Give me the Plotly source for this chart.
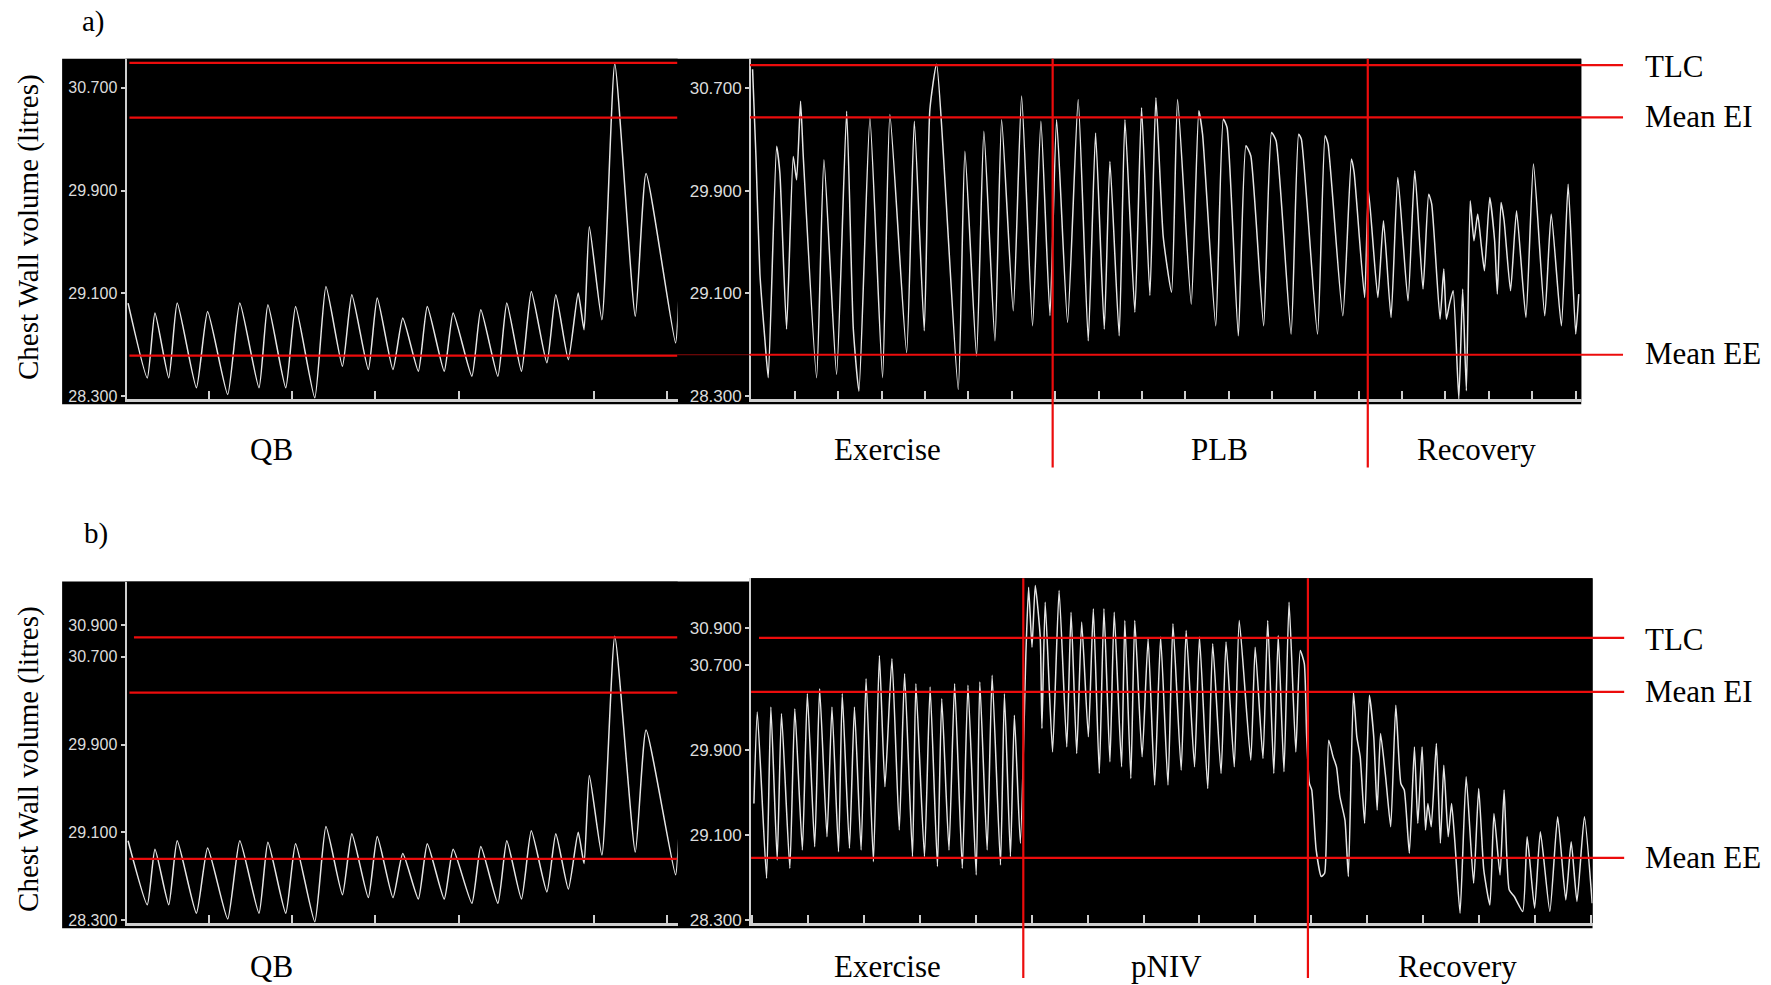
import plotly.graph_objects as go

# ---------------- data ----------------
# Quiet breathing (QB) trace, same recording shown in a) and b); time in arbitrary units, volume in litres
QB_T = [1.4, 18.4, 25.2, 37.4, 44.9, 61.9, 71.8, 89.6, 100.3, 117.3, 125.2, 141.0, 149.7, 166.7,
        176.6, 191.2, 199.5, 214.1, 222.0, 235.9, 244.6, 258.4, 266.3, 281.3, 289.2, 305.8, 313.7,
        328.8, 336.7, 349.7, 358.4, 372.2, 380.1, 391.2, 399.9, 405.1, 409.8, 420.9, 432.3, 450.5,
        460.0, 486.1, 488.9]
QB_V = [29.024, 28.442, 28.947, 28.442, 29.024, 28.365, 28.959, 28.313, 29.024, 28.365, 29.011,
        28.365, 28.998, 28.287, 29.153, 28.533, 29.089, 28.507, 29.063, 28.507, 28.908, 28.494,
        28.998, 28.494, 28.947, 28.455, 28.972, 28.455, 29.024, 28.494, 29.115, 28.559, 29.089,
        28.584, 29.102, 28.817, 29.619, 28.895, 30.886, 28.921, 30.033, 28.714, 29.037]

# a) Exercise / PLB / Recovery trace  (time, volume)
A_POINTS = [
    (1.3, 30.844), (4.3, 30.165), (7.8, 29.252), (12.3, 28.731), (15.2, 28.444), (22.6, 30.244),
    (25.5, 30.035), (31.4, 28.822), (37.3, 30.165), (40.3, 29.983), (43.8, 30.596), (46.2, 30.165),
    (58.0, 28.444), (64.5, 30.139), (75.7, 28.470), (84.6, 30.518), (90.5, 28.822), (95.5, 28.339),
    (105.2, 30.466), (116.4, 28.444), (122.9, 30.492), (137.7, 28.639), (144.5, 30.440),
    (153.3, 28.809), (158.3, 30.531), (164.2, 30.883), (183.4, 28.352), (189.3, 30.205),
    (199.6, 28.613), (206.1, 30.361), (215.9, 28.731), (221.8, 30.452), (232.1, 28.965),
    (239.5, 30.635), (249.2, 28.848), (256.6, 30.439), (264.6, 28.926), (270.5, 30.452),
    (280.2, 28.874), (289.6, 30.609), (298.5, 28.731), (305.0, 30.348), (312.7, 28.822),
    (317.7, 30.126), (325.9, 28.770), (331.0, 30.452), (339.8, 28.952), (345.7, 30.544),
    (353.1, 29.083), (358.4, 30.622), (364.9, 29.539), (372.3, 29.109), (377.6, 30.609),
    (389.7, 29.016), (396.4, 30.521), (399.7, 30.339), (411.4, 28.848), (418.1, 30.456),
    (421.4, 30.391), (431.4, 28.770), (438.1, 30.248), (442.4, 30.171), (453.8, 28.848),
    (460.8, 30.352), (464.8, 30.287), (478.1, 28.783), (484.8, 30.339), (487.2, 30.300),
    (501.5, 28.783), (508.2, 30.326), (510.8, 30.261), (523.9, 28.925), (531.5, 30.145),
    (533.9, 30.041), (543.2, 29.068), (546.6, 29.898), (554.9, 29.068), (559.9, 29.665),
    (566.6, 28.912), (572.6, 30.002), (581.6, 29.042), (587.6, 30.054), (594.9, 29.133),
    (599.9, 29.872), (602.6, 29.795), (610.0, 28.899), (613.3, 29.289), (615.6, 28.899),
    (618.3, 29.016), (621.6, 29.120), (626.6, 28.277), (630.0, 29.133), (633.3, 28.342),
    (636.7, 29.820), (640.0, 29.509), (643.3, 29.717), (646.7, 29.457), (649.3, 29.276),
    (654.0, 29.846), (658.3, 29.509), (660.7, 29.094), (664.0, 29.807), (666.7, 29.665),
    (672.4, 29.120), (677.7, 29.743), (686.0, 28.912), (692.7, 30.106), (702.7, 28.925),
    (708.4, 29.717), (717.4, 28.848), (723.4, 29.950), (730.1, 28.783), (732.8, 29.094),
]

# b) Exercise / pNIV / Recovery trace  (time, volume)
B_POINTS = [
    (2.5, 29.398), (5.5, 30.261), (13.7, 28.692), (17.5, 30.308), (23.1, 28.865), (26.9, 30.245),
    (34.3, 28.786), (38.7, 30.292), (45.4, 28.959), (49.8, 30.433), (56.3, 28.990), (60.7, 30.480),
    (67.2, 29.084), (71.6, 30.308), (77.4, 28.943), (80.7, 30.433), (87.1, 28.975), (91.5, 30.308),
    (97.4, 28.959), (101.8, 30.574), (108.3, 28.849), (113.6, 30.794), (118.5, 29.555),
    (124.7, 30.763), (131.2, 29.147), (135.9, 30.622), (142.9, 28.896), (145.9, 30.527),
    (153.5, 28.896), (158.5, 30.496), (165.0, 28.802), (168.8, 30.386), (175.2, 28.959),
    (180.2, 30.527), (187.0, 28.786), (192.0, 30.512), (199.3, 28.724), (202.5, 30.543),
    (209.0, 28.959), (213.4, 30.606), (220.8, 28.818), (224.3, 30.433), (229.6, 28.896),
    (233.1, 30.229), (238.4, 29.022),
    (243.4, 30.841), (245.7, 31.437), (248.7, 30.872), (251.6, 31.453), (256.0, 30.967),
    (257.5, 30.104), (260.4, 31.296), (266.9, 29.884), (272.7, 31.406), (279.5, 29.931),
    (283.3, 31.202), (288.3, 29.869), (292.7, 31.108), (298.6, 30.026), (303.0, 31.233),
    (308.3, 29.680), (312.4, 31.233), (317.7, 29.790), (321.5, 31.202), (328.0, 29.743),
    (330.9, 31.123), (336.2, 29.633), (339.7, 31.123), (346.2, 29.837), (351.5, 30.951),
    (357.3, 29.571), (362.6, 30.967), (369.1, 29.571), (373.5, 31.092), (380.8, 29.712),
    (385.2, 31.029), (392.6, 29.743), (397.0, 30.967), (404.3, 29.539), (408.7, 30.904),
    (416.1, 29.680), (420.5, 30.920), (427.8, 29.743), (432.2, 31.123), (442.4, 29.806),
    (446.3, 30.872), (453.2, 29.822), (457.4, 31.123), (462.8, 29.680), (466.7, 30.982),
    (471.8, 29.696), (476.3, 31.296), (482.3, 29.884), (486.2, 30.841), (489.8, 30.716),
    (491.9, 30.026), (494.3, 29.586), (496.4, 29.524), (500.3, 28.959), (504.8, 28.708),
    (507.8, 28.739), (511.4, 29.994), (515.3, 29.837), (518.3, 29.743), (521.3, 29.461),
    (525.8, 29.241), (528.8, 28.708), (533.3, 30.449), (536.3, 30.026), (539.3, 29.837),
    (543.2, 29.210), (547.4, 30.418), (551.3, 30.026), (554.3, 29.335), (557.3, 30.057),
    (561.8, 29.649), (566.3, 29.178), (570.8, 30.324), (575.3, 29.586), (578.3, 29.524),
    (582.8, 28.928), (587.3, 29.931), (590.3, 29.210), (594.1, 29.931), (597.1, 29.147),
    (599.2, 29.398), (602.2, 29.178), (606.7, 29.963), (610.3, 29.022), (613.3, 29.759),
    (617.2, 29.084), (620.2, 29.398), (623.2, 29.022), (627.7, 28.363), (633.1, 29.649),
    (639.7, 28.645), (644.2, 29.539), (648.7, 28.771), (654.1, 28.441), (657.7, 29.304),
    (663.1, 28.724), (666.7, 29.524), (671.2, 28.583), (675.7, 28.520), (683.2, 28.379),
    (687.1, 29.084), (693.7, 28.410), (698.8, 29.131), (707.2, 28.379), (714.1, 29.273),
    (721.3, 28.488), (726.1, 29.037), (731.2, 28.473), (737.8, 29.273), (744.7, 28.457),
]

# Phase boundaries (time) and reference levels (TLC, Mean EI, Mean EE) in litres
A_PHASES = [267.0, 546.0]
B_PHASES = [241.0, 493.0]
LEVEL_NAMES = ["TLC", "Mean EI", "Mean EE"]
A_QB_LEVELS = [30.893, 30.468, 28.615]
A_TASK_LEVELS = [30.876, 30.470, 28.622]
B_QB_LEVELS = [30.874, 30.372, 28.860]
B_TASK_LEVELS = [30.960, 30.450, 28.885]

A_PHASE_LABELS = ["Exercise", "PLB", "Recovery"]
B_PHASE_LABELS = ["Exercise", "pNIV", "Recovery"]

Y_TICKTEXT_A = ["28.300", "29.100", "29.900", "30.700"]
Y_TICKVALS_A = [28.3, 29.1, 29.9, 30.7]
Y_TICKTEXT_B = ["28.300", "29.100", "29.900", "30.700", "30.900"]
Y_TICKVALS_BQB = [28.3, 29.1, 29.9, 30.7, 30.988]
Y_TICKVALS_BTASK = [28.3, 29.1, 29.9, 30.7, 31.055]
QB_XTICKS = [72.6, 146.1, 220.1, 294.0, 413.7, 478.2]

# ---------------- layout helpers ----------------
# positions are given on a 1568 x 872 grid of the reference (vertical grid slightly
# stretched to compensate for the capture)
GW, GH = 1568.0, 866.0
FIG_W, FIG_H = 1771, 985


def fx(x):
    return x / GW


def fy(y):
    return 1 - y / GH


TRACE_COLOR = "#e6e6e6"
AXIS_COLOR = "#cfcfcf"
LABEL_COLOR = "#dcdcdc"
RED = "#ec0c0c"
SERIF = "Liberation Serif, Times New Roman, serif"

fig = go.Figure()


def add_trace(t, v, xa, ya):
    fig.add_trace(go.Scatter(x=t, y=v, mode="lines", xaxis=xa, yaxis=ya,
                             line=dict(color=TRACE_COLOR, width=1.5, shape="spline",
                                       smoothing=0.5),
                             showlegend=False, hoverinfo="skip"))


add_trace(QB_T, QB_V, "x", "y")
add_trace([p[0] for p in A_POINTS], [p[1] for p in A_POINTS], "x2", "y2")
add_trace(QB_T, QB_V, "x3", "y3")
add_trace([p[0] for p in B_POINTS], [p[1] for p in B_POINTS], "x4", "y4")


def xaxis(x0, x1, rng, anchor, **kw):
    d = dict(domain=[fx(x0), fx(x1)], range=rng, anchor=anchor, showgrid=False,
             zeroline=False, showline=True, linecolor=AXIS_COLOR, linewidth=3,
             ticks="inside", ticklen=8, tickwidth=1.5, tickcolor=AXIS_COLOR,
             showticklabels=False, fixedrange=True)
    d.update(kw)
    return d


def yaxis(top, bottom, rng, anchor, vals, text, size):
    return dict(domain=[fy(bottom), fy(top)], range=rng, anchor=anchor, showgrid=False,
                zeroline=False, showline=True, linecolor=AXIS_COLOR, linewidth=2,
                ticks="outside", ticklen=4, tickwidth=1.5, tickcolor=AXIS_COLOR,
                tickvals=vals, ticktext=text, fixedrange=True,
                tickfont=dict(family="Liberation Sans, Arial, sans-serif", size=size,
                              color=LABEL_COLOR))


shapes = []
annotations = []

# black panels
for (x0, y0, x1, y1) in [(55, 52, 1400, 358), (55, 515, 664, 822), (664, 512, 1410, 822)]:
    shapes.append(dict(type="rect", xref="paper", yref="paper", x0=fx(x0), x1=fx(x1),
                       y0=fy(y1), y1=fy(y0), fillcolor="black", line=dict(width=0),
                       layer="below"))


def hline(level, x0, x1, yref, color=RED, width=2.2):
    shapes.append(dict(type="line", xref="paper", yref=yref, x0=fx(x0), x1=fx(x1),
                       y0=level, y1=level, line=dict(color=color, width=width),
                       layer="above"))


def vline(t, xref, y0, y1):
    shapes.append(dict(type="line", xref=xref, yref="paper", x0=t, x1=t,
                       y0=max(fy(y1), 0.0), y1=fy(y0),
                       line=dict(color=RED, width=2.2), layer="above"))


# a) reference lines
for lvl in A_QB_LEVELS:
    hline(lvl, 114.6, 599.6, "y")
for lvl in A_TASK_LEVELS:
    hline(lvl, 664, 1437, "y2")
hline(A_TASK_LEVELS[2], 599.6, 664, "y2", color="#8a0a0a", width=1.2)
for t in A_PHASES:
    vline(t, "x2", 52, 414)

# b) reference lines
hline(B_QB_LEVELS[0], 118.6, 599.6, "y3")
hline(B_QB_LEVELS[1], 114.6, 599.6, "y3")
hline(B_QB_LEVELS[2], 114.6, 599.6, "y3")
hline(B_TASK_LEVELS[0], 672, 1438, "y4")
hline(B_TASK_LEVELS[1], 665, 1438, "y4")
hline(B_TASK_LEVELS[2], 665, 1438, "y4")
for t in B_PHASES:
    vline(t, "x4", 512, 872)


def text(x, y, s, size=31, anchor="center", angle=0):
    annotations.append(dict(x=fx(x), y=fy(y), xref="paper", yref="paper", text=s,
                            showarrow=False, xanchor=anchor, yanchor="middle",
                            textangle=angle, font=dict(family=SERIF, size=size, color="black")))


text(83, 19, "a)", size=29)
text(85, 472, "b)", size=29)
text(25.7, 201, "Chest Wall volume (litres)", size=29, angle=-90)
text(25.7, 672, "Chest Wall volume (litres)", size=29, angle=-90)

text(240, 398, "QB")
for (lbl, x) in zip(A_PHASE_LABELS, [786, 1080, 1307]):
    text(x, 398, lbl)
text(240, 856, "QB")
for (lbl, x) in zip(B_PHASE_LABELS, [785.5, 1032.5, 1290]):
    text(x, 856, lbl)

for (name, y) in zip(LEVEL_NAMES, [59, 103.3, 312.8]):
    text(1455, y, name, anchor="left")
for (name, y) in zip(LEVEL_NAMES, [566.6, 612.4, 759]):
    text(1455, y, name, anchor="left")

fig.update_layout(
    width=FIG_W, height=FIG_H, autosize=False,
    margin=dict(l=0, r=0, t=0, b=0, pad=0),
    paper_bgcolor="white", plot_bgcolor="black",
    showlegend=False,
    xaxis=xaxis(112, 600, [0, 488], "y", tickvals=QB_XTICKS),
    yaxis=yaxis(52, 353.5, [28.276, 30.926], "x", Y_TICKVALS_A, Y_TICKTEXT_A, 16),
    xaxis2=xaxis(665, 1400, [0, 735], "y2", tick0=0.4, dtick=38.4),
    yaxis2=yaxis(52, 353.5, [28.276, 30.926], "x2", Y_TICKVALS_A, Y_TICKTEXT_A, 17),
    xaxis3=xaxis(112, 600, [0, 488], "y3", tickvals=QB_XTICKS),
    yaxis3=yaxis(515, 817.4, [28.275, 31.382], "x3", Y_TICKVALS_BQB, Y_TICKTEXT_B, 16),
    xaxis4=xaxis(665, 1410, [0, 745], "y4", tick0=1.0, dtick=49.5),
    yaxis4=yaxis(512, 817.5, [28.268, 31.522], "x4", Y_TICKVALS_BTASK, Y_TICKTEXT_B, 17),
    shapes=shapes,
    annotations=annotations,
)

# no page margin so the figure fills the browser window
POST = "document.body.style.margin='0px';document.body.style.overflow='hidden';"

fig.write_html("out.html", config={"displayModeBar": False}, post_script=POST)
